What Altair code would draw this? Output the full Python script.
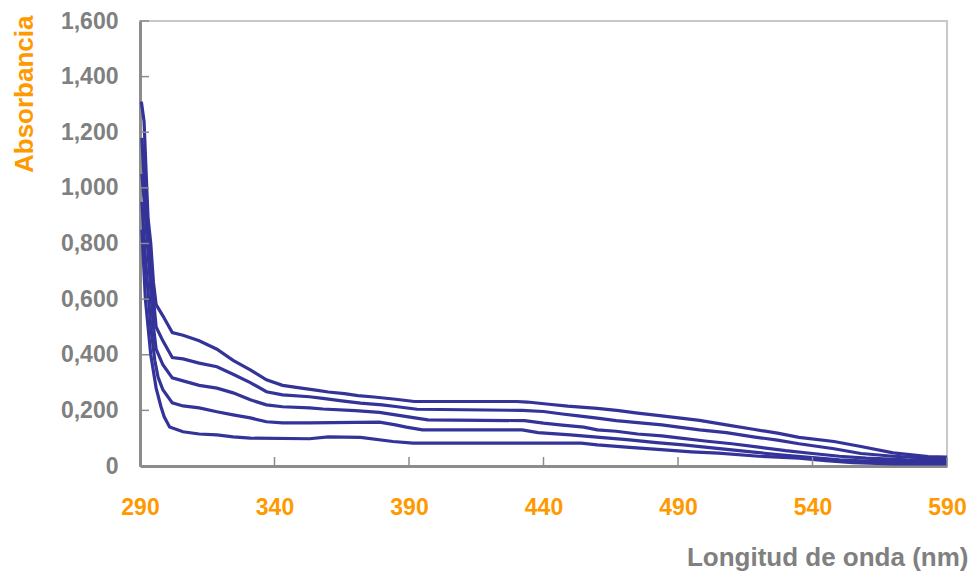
import altair as alt
import pandas as pd

# ---- data ----
wl1 = [290.5, 291.5, 292.3, 293, 294, 295, 296, 298.5, 302, 306, 312, 318.6, 324.6, 331, 337, 343, 350, 356, 360, 366, 371, 377, 385, 392, 430, 434, 442, 449, 460, 468, 475, 484, 491, 498, 508, 518, 527, 535, 548, 558, 570, 583, 590]
ab1 = [1.31, 1.24, 1.05, 0.89, 0.80, 0.66, 0.58, 0.54, 0.48, 0.47, 0.45, 0.42, 0.38, 0.346, 0.31, 0.29, 0.28, 0.272, 0.266, 0.26, 0.253, 0.248, 0.24, 0.232, 0.232, 0.23, 0.222, 0.215, 0.207, 0.199, 0.19, 0.18, 0.172, 0.164, 0.148, 0.132, 0.118, 0.103, 0.088, 0.07, 0.047, 0.034, 0.032]

wl2 = [290.7, 291.7, 293, 294.5, 296, 298.5, 302, 306, 312, 318.6, 324.6, 331, 337, 343, 353, 358, 365, 372, 380, 385, 393, 432, 440, 447, 453, 460, 467, 475, 484, 491, 498, 508, 518, 527, 535, 548, 558, 570, 583, 590]
ab2 = [1.18, 1.0, 0.82, 0.65, 0.50, 0.45, 0.39, 0.385, 0.37, 0.357, 0.33, 0.30, 0.267, 0.256, 0.249, 0.243, 0.234, 0.226, 0.22, 0.214, 0.204, 0.2, 0.196, 0.187, 0.18, 0.172, 0.163, 0.156, 0.148, 0.139, 0.13, 0.12, 0.105, 0.093, 0.08, 0.062, 0.045, 0.035, 0.028, 0.025]

wl3 = [290.7, 292, 293.5, 295, 296, 298.5, 302, 306, 312, 318.6, 324.6, 331, 337, 343, 353, 358, 370, 379, 385, 397, 433, 440, 447, 455, 460, 467, 475, 484, 491, 500, 510, 520, 530, 540, 550, 560, 575, 590]
ab3 = [1.05, 0.9, 0.7, 0.5, 0.42, 0.364, 0.317, 0.306, 0.29, 0.28, 0.263, 0.238, 0.22, 0.213, 0.209, 0.205, 0.199, 0.193, 0.184, 0.166, 0.163, 0.154, 0.147, 0.14, 0.13, 0.125, 0.115, 0.108, 0.1, 0.09, 0.08, 0.068, 0.055, 0.045, 0.035, 0.028, 0.022, 0.02]

wl4 = [290.7, 292, 294, 295.5, 296.7, 298.5, 302, 306, 312, 318.6, 324.6, 331, 337, 343, 353, 379, 385, 389, 395, 432, 438, 450, 461, 472, 482, 492, 500, 510, 520, 530, 540, 550, 560, 575, 590]
ab4 = [0.95, 0.75, 0.5, 0.38, 0.32, 0.274, 0.227, 0.216, 0.209, 0.195, 0.184, 0.173, 0.159, 0.155, 0.155, 0.158, 0.148, 0.14, 0.13, 0.13, 0.12, 0.112, 0.103, 0.094, 0.084, 0.076, 0.068, 0.058, 0.048, 0.038, 0.03, 0.022, 0.018, 0.015, 0.015]

wl5 = [290.7, 292, 294, 296, 297.8, 299, 301, 306, 312, 318.6, 324.6, 331, 353, 360, 372, 384, 391.5, 454, 460, 472, 485, 495, 505, 520, 535, 545, 555, 570, 590]
ab5 = [0.85, 0.6, 0.4, 0.28, 0.213, 0.177, 0.14, 0.123, 0.115, 0.112, 0.105, 0.1, 0.098, 0.105, 0.103, 0.088, 0.082, 0.082, 0.076, 0.067, 0.058, 0.051, 0.046, 0.035, 0.028, 0.019, 0.012, 0.008, 0.008]

x_ticks = [290, 340, 390, 440, 490, 540, 590]
y_ticks = [0, 0.2, 0.4, 0.6, 0.8, 1.0, 1.2, 1.4, 1.6]

rows = []
for name, wls, abs_ in [("m1", wl1, ab1), ("m2", wl2, ab2), ("m3", wl3, ab3), ("m4", wl4, ab4), ("m5", wl5, ab5)]:
    for w, a in zip(wls, abs_):
        rows.append({"serie": name, "wl": w, "ab": a})
df = pd.DataFrame(rows)

FONT = "Liberation Sans"
GRAY = "#808080"
ORANGE = "#FF9900"

xscale = alt.Scale(domain=[290, 590], nice=False, zero=False)
yscale = alt.Scale(domain=[0, 1.6], nice=False)

x_axis = alt.Axis(
    values=x_ticks, title="Longitud de onda (nm)", grid=False, ticks=False,
    domainColor="#8c8c8c", domainWidth=3,
    labelFont=FONT, labelFontSize=23, labelFontWeight="bold", labelColor=ORANGE,
    labelPadding=30, labelFlush=False,
    titleFont=FONT, titleFontSize=26, titleFontWeight="bold", titleColor=GRAY,
    titleX=828, titleY=91, titleAlign="right", titleBaseline="middle")
y_axis = alt.Axis(
    values=y_ticks, title="Absorbancia", grid=False, ticks=False,
    domainColor="#8c8c8c", domainWidth=3,
    labelExpr="datum.value == 0 ? '0' : replace(format(datum.value, '.3f'), '.', ',')",
    labelFont=FONT, labelFontSize=23, labelFontWeight="bold", labelColor=GRAY,
    labelPadding=22,
    titleFont=FONT, titleFontSize=26, titleFontWeight="bold", titleColor=ORANGE,
    titleAngle=270, titleX=-108, titleY=-6, titleAlign="right", titleBaseline="alphabetic")

X = alt.X("wl:Q", scale=xscale, axis=x_axis)
Y = alt.Y("ab:Q", scale=yscale, axis=y_axis)

lines = alt.Chart(df).mark_line(color="#333399", strokeWidth=3.2).encode(
    x=X, y=Y, detail="serie:N")

xt = alt.Chart(pd.DataFrame({"wl": x_ticks})).mark_rule(color="#8c8c8c", strokeWidth=1.5).encode(
    x=X, y=alt.value(445), y2=alt.value(436))
yt = alt.Chart(pd.DataFrame({"ab": y_ticks})).mark_rule(color="#8c8c8c", strokeWidth=1.5).encode(
    y=Y, x=alt.value(0), x2=alt.value(9))

chart = alt.layer(lines, xt, yt).properties(
    width=807, height=445,
    autosize=alt.AutoSizeParams(type="none"),
    padding={"left": 140, "top": 21, "right": 25, "bottom": 105},
    background="white",
).configure_view(stroke="#c8c8c8", strokeWidth=2)

chart.save("out.html", embed_options={"renderer": "svg", "actions": False})
